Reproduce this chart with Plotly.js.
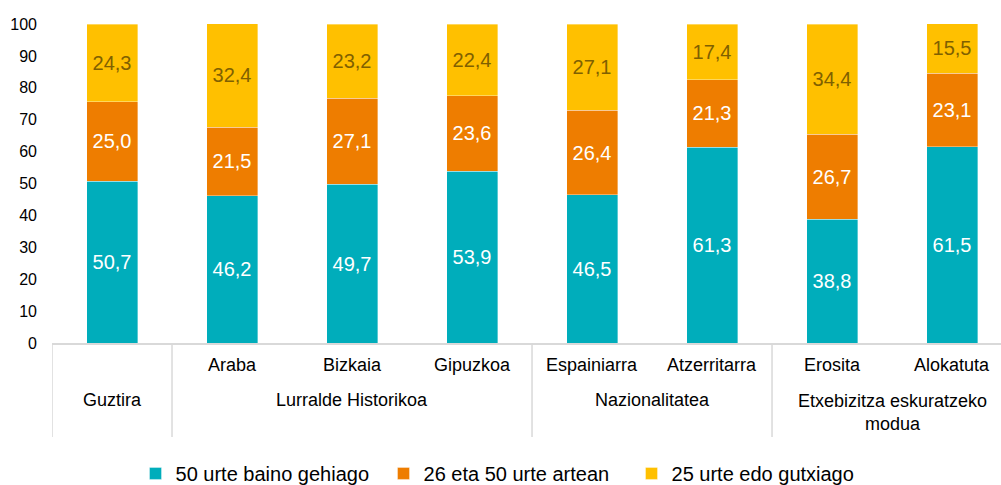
<!DOCTYPE html>
<html>
<head>
<meta charset="utf-8">
<script src="https://cdn.plot.ly/plotly-3.0.1.min.js"></script>
<style>html,body{margin:0;padding:0;background:#fff;}#chart{width:1001px;height:485px;}</style>
</head>
<body>
<div id="chart"></div>
<script>
// ---- data ----
const categories = ['Guztira','Araba','Bizkaia','Gipuzkoa','Espainiarra','Atzerritarra','Erosita','Alokatuta'];
const subLabels  = ['', 'Araba','Bizkaia','Gipuzkoa','Espainiarra','Atzerritarra','Erosita','Alokatuta'];
const groupNames = ['Guztira','Lurralde Historikoa','Nazionalitatea','Etxebizitza eskuratzeko<br>modua'];
const groupStart = [0, 1, 4, 6];
const groupEnd   = [0, 3, 5, 7];
const seriesNames = ['50 urte baino gehiago','26 eta 50 urte artean','25 urte edo gutxiago'];
const over50   = [50.7, 46.2, 49.7, 53.9, 46.5, 61.3, 38.8, 61.5];
const from26to50 = [25.0, 21.5, 27.1, 23.6, 26.4, 21.3, 26.7, 23.1];
const upTo25   = [24.3, 32.4, 23.2, 22.4, 27.1, 17.4, 34.4, 15.5];
const yTicks = [0,10,20,30,40,50,60,70,80,90,100];

// ---- styles ----
const colors = ['#00ADBB', '#EE7D00', '#FFC000'];
const textColors = ['#ffffff', '#ffffff', '#7F6000'];
const FONT = 'Liberation Sans, Arial, sans-serif';
const seriesVals = [over50, from26to50, upTo25];

const traces = seriesVals.map((vals, i) => ({
  type: 'bar',
  name: seriesNames[i],
  x: categories,
  y: vals,
  marker: {color: colors[i], line: {color: 'rgba(255,255,255,0.6)', width: 0.6}},
  texttemplate: '%{y:.1f}',
  textposition: 'inside',
  insidetextanchor: 'middle',
  constraintext: 'none',
  textfont: {family: FONT, size: 20, color: textColors[i]},
  hoverinfo: 'skip'
}));

const plotTop = 24, plotBottom = 343, plotH = plotBottom - plotTop;
const py = px => -(px - plotBottom) / plotH;

const annotations = [];
subLabels.forEach((t, i) => {
  if (!t) return;
  annotations.push({x: i, xref: 'x', y: py(365), yref: 'paper', text: t, showarrow: false,
    xanchor: 'center', yanchor: 'middle', font: {family: FONT, size: 18, color: '#000'}});
});
groupNames.forEach((g, k) => {
  const multi = g.indexOf('<br>') >= 0;
  annotations.push({x: (groupStart[k] + groupEnd[k]) / 2, xref: 'x',
    y: multi ? py(389) : py(400), yref: 'paper', text: g, showarrow: false,
    xanchor: 'center', yanchor: multi ? 'top' : 'middle', align: 'center',
    font: {family: FONT, size: 18, color: '#000'}});
});

const shapes = [];
const dividers = [-0.5].concat(groupEnd.slice(0, -1).map(e => e + 0.5));
dividers.forEach(d => {
  shapes.push({type: 'line', xref: 'x', yref: 'paper', x0: d, x1: d, y0: 0, y1: py(437),
    line: {color: '#d9d9d9', width: 1.5}});
});

const layout = {
  width: 1001, height: 485,
  margin: {l: 52, r: 0, t: plotTop, b: 485 - plotBottom, autoexpand: false},
  paper_bgcolor: '#fff', plot_bgcolor: '#fff',
  separators: ',.',
  barmode: 'stack',
  bargap: 0.575,
  showlegend: true,
  font: {family: FONT, color: '#000'},
  xaxis: {type: 'category', range: [-0.5, 7.408], showticklabels: false, ticks: '',
    showgrid: false, zeroline: false, showline: true, linecolor: '#d9d9d9', linewidth: 1.5,
    fixedrange: true},
  yaxis: {range: [0, 100], tickvals: yTicks, ticktext: yTicks.map(String), showgrid: false,
    zeroline: false, showline: false, ticks: '', ticklabelstandoff: 14,
    tickfont: {family: FONT, size: 16, color: '#000'}, fixedrange: true},
  legend: {orientation: 'h', xref: 'container', yref: 'container', x: 0.507, xanchor: 'center',
    y: 0.064, yanchor: 'top', font: {family: FONT, size: 20, color: '#000'},
    traceorder: 'normal', itemwidth: 30, entrywidth: 203, entrywidthmode: 'pixels'},
  annotations: annotations,
  shapes: shapes
};

Plotly.newPlot('chart', traces, layout, {displayModeBar: false, staticPlot: true});
</script>
</body>
</html>
